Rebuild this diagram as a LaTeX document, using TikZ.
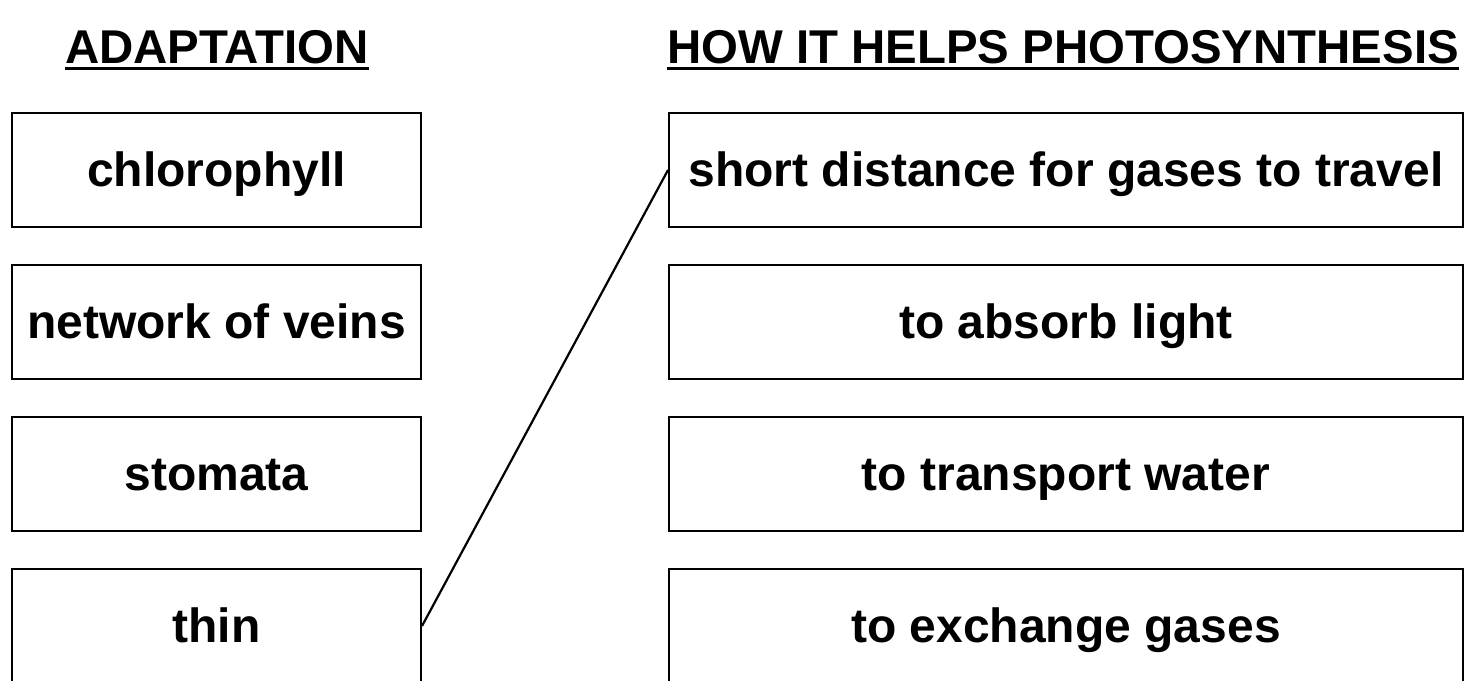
\documentclass[tikz,border=0pt]{standalone}
\usepackage{fontspec}
\setmainfont{Liberation Sans}
\begin{document}
\begin{tikzpicture}[x=0.5pt, y=-0.5pt,
  adapt/.style={draw, line width=1pt, minimum width=204.5pt, minimum height=57pt,
    inner sep=0pt, text height=18pt, text depth=2pt,
    font=\fontsize{24}{28}\selectfont\bfseries},
  helps/.style={adapt, minimum width=397pt},
  heading/.style={inner sep=0pt, anchor=base, font=\fontsize{23.7}{28}\selectfont\bfseries},
  underl/.style={line width=1.5pt}]
\useasboundingbox (0,0) rectangle (1467,680);

% Column headings
\node[heading] (adaptation) at (217,63) {ADAPTATION};
\node[heading] (howhelps) at (1063,63) {HOW IT HELPS PHOTOSYNTHESIS};
\draw[underl] ([yshift=-2.5pt]adaptation.base west) -- ([yshift=-2.5pt]adaptation.base east);
\draw[underl] ([yshift=-2.5pt]howhelps.base west) -- ([yshift=-2.5pt]howhelps.base east);

% Adaptations (left column)
\node[adapt] (chlorophyll) at (216.5,170) {chlorophyll};
\node[adapt] (veins) at (216.5,322) {network of veins};
\node[adapt] (stomata) at (216.5,474) {stomata};
\node[adapt] (thin) at (216.5,626) {thin};

% How it helps (right column)
\node[helps] (short) at (1066,170) {short distance for gases to travel};
\node[helps] (light) at (1066,322) {to absorb light};
\node[helps] (water) at (1066,474) {to transport water};
\node[helps] (exchange) at (1066,626) {to exchange gases};

% Matching line
\draw[line width=1.1pt] (thin.east) -- (short.west);

\end{tikzpicture}
\end{document}
